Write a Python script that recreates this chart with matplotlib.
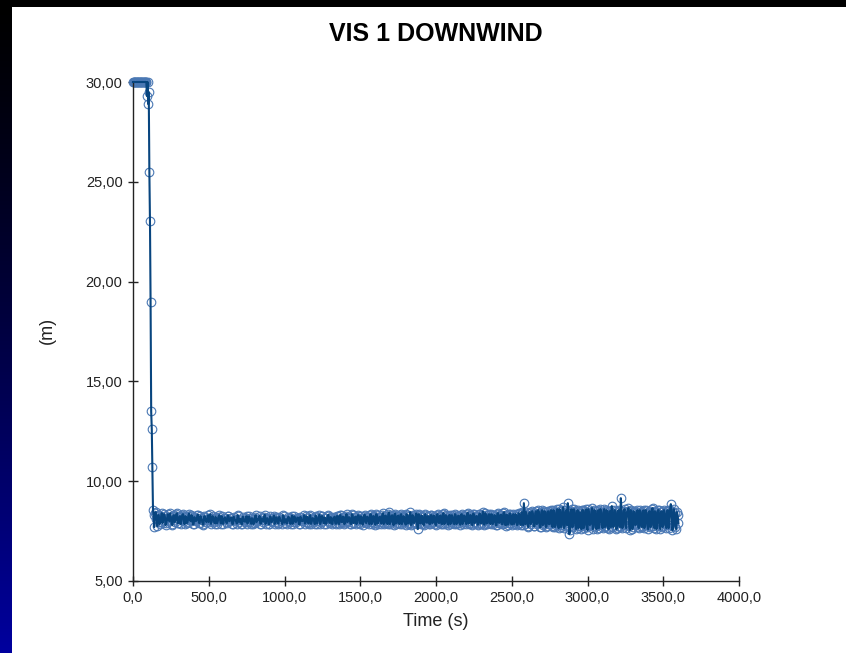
import numpy as np
import matplotlib
matplotlib.use("Agg")
import matplotlib.pyplot as plt
from matplotlib.ticker import FuncFormatter
from matplotlib.patches import Rectangle

# ---------------- data ----------------
# start of run: plateau at 30 m then fast drop
t_start = [0, 4, 8, 12, 16, 20, 24, 28, 32, 36, 40, 44, 48, 52, 56, 60, 64, 68,
           72, 76, 80, 84, 88, 92, 96, 100, 104, 108, 112, 116, 120, 124, 128,
           132, 136, 140, 144]
v_start = [30, 30, 30, 30, 30, 30, 30, 30, 30, 30, 30, 30, 30, 30, 30, 30, 30, 30,
           30, 30, 30, 30, 30, 29.3, 30, 28.9, 29.5, 25.5, 23.05, 19.0, 13.5, 12.6,
           10.7, 8.55, 8.3, 7.7, 8.4]

# steady part: samples at 150, 160, ..., 3600 s
v_steady_a = [
    8.45, 7.75, 8.30, 7.95, 8.40, 8.05, 8.25, 7.90, 8.35, 8.00, 8.20, 7.80, 8.30, 8.05, 8.40, 7.90, 8.25, 8.10, 8.35, 7.85,
    8.20, 7.95, 8.38, 8.00, 8.25, 7.85, 8.10, 8.05, 8.32, 7.90, 8.15, 7.82, 8.25, 8.05, 8.10, 7.95, 8.35, 8.00, 8.15, 7.88,
    8.15, 8.00, 8.30, 7.88, 8.10, 8.05, 8.15, 7.90, 8.28, 8.02, 8.18, 7.86, 8.10, 8.04, 8.30, 7.95, 8.12, 7.85, 8.08, 7.97,
    8.25, 7.96, 8.15, 7.86, 8.10, 7.92, 8.30, 8.02, 8.08, 7.88, 8.14, 7.98, 8.32, 8.00, 8.10, 7.85, 8.16, 8.03, 8.28, 7.96,
    8.15, 7.88, 8.12, 8.00, 8.30, 7.92, 8.10, 8.02, 8.15, 7.86, 8.28, 7.98, 8.12, 8.04, 8.16, 7.84, 8.10, 8.00, 8.30, 7.95,
    8.18, 7.88, 8.30, 7.98, 8.12, 7.85, 8.20, 8.02, 8.32, 7.95, 8.25, 7.88, 8.14, 8.00, 8.32, 7.90, 8.16, 8.04, 8.22, 7.86,
    8.25, 7.85, 8.30, 7.95, 8.20, 7.90, 8.35, 8.00, 8.15, 7.85, 8.30, 7.92, 8.22, 8.05, 8.28, 7.88, 8.18, 7.95, 8.32, 7.90,
    8.20, 7.85, 8.35, 7.95, 8.25, 7.82, 8.30, 8.00, 8.22, 7.88, 8.40, 7.92, 8.25, 7.85, 8.45, 7.95, 8.30, 7.80, 8.38, 7.90,
    8.28, 7.85, 8.35, 7.95, 8.20, 7.82, 8.30, 7.90, 8.45, 7.85, 8.25, 7.95, 8.38, 7.60, 8.30, 7.88, 8.22, 7.80, 8.35, 7.92,
    8.25, 7.85, 8.30, 7.95, 8.22, 7.80, 8.35, 7.90, 8.28, 7.85, 8.40, 7.92, 8.25, 7.82, 8.32, 7.95, 8.20, 7.85, 8.30, 7.90,
    8.28, 7.82, 8.35, 7.95, 8.25, 7.85, 8.42, 7.90, 8.30, 7.80, 8.35, 7.95, 8.25, 7.85, 8.38, 7.88, 8.48, 7.82, 8.30, 7.90,
    8.35, 7.85, 8.30, 7.95, 8.28, 7.80, 8.40, 7.92, 8.32, 7.85, 8.45, 7.78, 8.30, 7.90, 8.38, 7.82, 8.35, 7.95, 8.28, 7.85,
    8.35, 7.80, 8.40, 8.90, 7.85, 8.30, 7.70, 8.45, 7.95, 8.35, 7.75, 8.50, 7.90, 8.40, 7.70, 8.55, 7.85, 8.45, 7.75, 8.50,
    7.85, 8.55, 7.70, 8.45, 7.80, 8.60, 7.65, 8.50, 7.80, 8.70, 7.75, 8.55, 8.90, 7.35, 8.50, 7.70, 8.60, 7.80, 8.45, 7.65,
    8.45, 7.60, 8.55, 7.80, 8.60, 7.55, 8.40, 7.85, 8.65, 7.70, 8.50, 7.60, 8.55, 7.90, 8.45, 7.65, 8.60, 7.75, 8.50, 7.60,
    8.50, 8.75, 7.70, 8.55, 7.60, 8.45, 7.75, 9.15, 7.65, 8.50, 7.80, 8.45, 8.65, 7.55, 8.50, 7.70, 8.45, 7.85, 8.55, 7.65,
    8.45, 7.70, 8.55, 7.80, 8.40, 7.60, 8.50, 7.75, 8.65, 7.65, 8.45, 7.85, 8.55, 7.60, 8.50, 7.75, 8.40, 7.65, 8.55, 7.80,
    8.85, 7.55, 8.60, 7.70, 8.45, 7.90,
]
# steady part: samples at 155, 165, ..., 3595 s
v_steady_b = [
    8.10, 8.30, 7.85, 8.20, 7.90, 8.35, 7.80, 8.15, 8.05, 8.40, 7.85, 8.25, 7.95, 8.35, 7.90, 8.20, 7.85, 8.30, 8.00, 8.25,
    7.90, 8.25, 8.05, 8.30, 7.84, 8.20, 8.00, 8.30, 7.92, 8.25, 8.05, 7.84, 8.22, 7.95, 8.30, 8.08, 7.86, 8.25, 7.98, 8.22,
    7.88, 8.22, 8.05, 8.25, 7.86, 8.18, 7.95, 8.28, 8.00, 8.15, 7.86, 8.22, 8.02, 7.88, 8.26, 8.05, 7.86, 8.22, 8.00, 8.18,
    7.88, 8.24, 7.98, 8.15, 7.85, 8.22, 7.95, 8.12, 8.26, 7.88, 8.05, 8.20, 7.86, 8.15, 7.85, 8.24, 7.95, 8.15, 7.86, 8.20,
    7.90, 8.22, 8.02, 7.85, 8.24, 8.05, 7.88, 8.22, 7.95, 8.15, 7.86, 8.24, 7.95, 8.18, 7.85, 8.22, 8.00, 8.12, 7.88, 8.24,
    7.92, 8.25, 7.86, 8.15, 8.00, 8.28, 7.88, 8.15, 7.85, 8.25, 8.00, 8.18, 7.86, 8.25, 7.95, 8.20, 7.85, 8.15, 7.90, 8.25,
    7.90, 8.30, 7.95, 8.22, 7.85, 8.28, 7.95, 8.20, 7.88, 8.35, 7.90, 8.20, 7.85, 8.30, 7.92, 8.25, 7.82, 8.28, 7.95, 8.22,
    8.00, 8.32, 7.85, 8.25, 7.92, 8.35, 7.88, 8.20, 7.95, 8.30, 7.85, 8.28, 7.90, 8.35, 7.85, 8.25, 7.95, 8.30, 7.88, 8.25,
    7.90, 8.30, 7.85, 8.25, 7.95, 8.35, 7.88, 8.28, 7.80, 8.30, 7.90, 8.25, 7.85, 8.35, 7.90, 8.28, 7.85, 8.30, 7.95, 8.25,
    7.88, 8.30, 7.90, 8.28, 7.85, 8.32, 7.95, 8.25, 7.88, 8.35, 7.85, 8.30, 7.92, 8.25, 7.85, 8.30, 7.90, 8.35, 7.85, 8.25,
    7.90, 8.32, 7.85, 8.28, 7.95, 8.35, 7.88, 8.30, 7.85, 8.38, 7.90, 8.25, 7.82, 8.35, 7.90, 8.30, 7.85, 8.40, 7.88, 8.30,
    7.90, 8.35, 7.85, 8.30, 7.80, 8.38, 7.92, 8.30, 7.85, 8.40, 7.90, 8.32, 7.82, 8.38, 7.90, 8.30, 7.85, 8.35, 7.80, 8.40,
    7.90, 8.45, 7.80, 8.35, 8.45, 7.75, 8.40, 7.85, 8.50, 7.75, 8.40, 7.85, 8.55, 7.70, 8.45, 7.80, 8.50, 7.70, 8.45, 7.85,
    8.50, 7.75, 8.55, 7.70, 8.45, 7.80, 8.60, 7.70, 8.55, 7.65, 8.45, 7.80, 8.50, 7.55, 8.60, 7.75, 8.50, 7.60, 8.55, 7.75,
    7.75, 8.55, 7.65, 8.50, 7.70, 8.60, 7.80, 8.45, 7.60, 8.55, 7.75, 8.50, 7.65, 8.60, 7.80, 8.45, 7.70, 8.55, 7.65, 8.50,
    7.70, 8.55, 7.80, 8.50, 7.65, 8.55, 7.70, 8.50, 7.80, 8.60, 7.65, 8.50, 7.75, 8.55, 7.60, 8.50, 7.80, 8.45, 7.70, 8.55,
    7.75, 8.50, 7.65, 8.55, 7.80, 8.45, 7.70, 8.60, 7.75, 8.50, 7.60, 8.55, 7.75, 8.45, 7.70, 8.55, 7.80, 8.50, 7.65, 8.55,
    8.50, 7.75, 8.40, 7.60, 8.30,
]

x_ticks = [0, 500, 1000, 1500, 2000, 2500, 3000, 3500, 4000]
y_ticks = [5, 10, 15, 20, 25, 30]
title = "VIS 1 DOWNWIND"
x_label = "Time (s)"
y_label = "(m)"

t_a = np.arange(150, 3601, 10)[:len(v_steady_a)]
t_b = np.arange(155, 3596, 10)[:len(v_steady_b)]
t_all = np.concatenate([np.array(t_start, float), t_a, t_b])
v_all = np.concatenate([np.array(v_start, float), np.array(v_steady_a), np.array(v_steady_b)])
order = np.argsort(t_all, kind="stable")
t_all, v_all = t_all[order], v_all[order]

# ---------------- figure ----------------
W, H = 846, 653
plt.rcParams["font.family"] = ["Liberation Sans", "DejaVu Sans"]
fig = plt.figure(figsize=(W / 100, H / 100), dpi=100)
fig.patch.set_facecolor("white")

# slide background strips (left gradient, top black bar)
bg = fig.add_axes([0, 0, 11 / W, 1])
grad = np.zeros((256, 1, 3))
s = np.linspace(0, 1, 256) ** 1.3
grad[:, 0, 2] = s * 0.62
bg.imshow(grad, aspect="auto", extent=[0, 1, 1, 0])
bg.set_axis_off()
fig.add_artist(Rectangle((0, 1 - 7 / H), 1, 7 / H, transform=fig.transFigure,
                         facecolor="black", edgecolor="none", zorder=5))

left, right = 133, 739
bottom, top = 581, 82
ax = fig.add_axes([left / W, (H - bottom) / H, (right - left) / W, (bottom - top) / H])

# markers first, connecting line drawn over them
ax.plot(t_all, v_all, linestyle="none", marker="o", ms=6.2,
        mfc="none", mec="#4a78b4", mew=0.8, clip_on=False, zorder=2)
ax.plot(t_all, v_all, color="#08457f", lw=1.5, clip_on=False, zorder=3)

ax.set_xlim(0, 4000)
ax.set_ylim(5, 30)
ax.set_xticks(x_ticks)
ax.set_yticks(y_ticks)
ax.xaxis.set_major_formatter(FuncFormatter(lambda v, p: f"{v:.1f}".replace(".", ",")))
ax.yaxis.set_major_formatter(FuncFormatter(lambda v, p: f"{v:.2f}".replace(".", ",")))
for sp in ["top", "right"]:
    ax.spines[sp].set_visible(False)
for sp in ["left", "bottom"]:
    ax.spines[sp].set_linewidth(1.0)
    ax.spines[sp].set_color("#222222")
ax.tick_params(axis="both", direction="inout", length=7, width=1.0, color="#222222",
               labelsize=10.5, labelcolor="#222222")
ax.tick_params(axis="x", pad=4)
ax.tick_params(axis="y", pad=4)

fig.text(436 / W, (H - 34) / H, title, ha="center", va="center",
         fontsize=18, fontweight="bold", color="black")
fig.text(436 / W, (H - 621) / H, x_label, ha="center", va="center",
         fontsize=13, color="#222222")
fig.text(47 / W, (H - 330) / H, y_label, ha="center", va="center",
         fontsize=13, color="#222222", rotation=90)

fig.savefig("out.png", dpi=100, facecolor="white")
